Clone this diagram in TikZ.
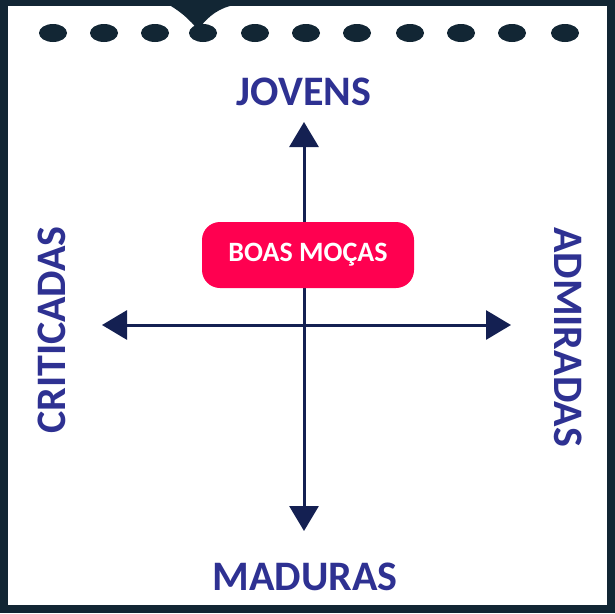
\documentclass[tikz,border=0pt]{standalone}
\usepackage{fontspec}
\setmainfont{Carlito}
\usetikzlibrary{arrows.meta}
\definecolor{txtblue}{RGB}{46,49,146}
\definecolor{axisnavy}{RGB}{20,32,82}
\definecolor{boxred}{RGB}{255,0,80}
\definecolor{frame}{RGB}{18,38,52}
\tikzset{
  lbl/.style={font=\bfseries\fontsize{42}{42}\selectfont, text=txtblue, inner sep=0pt},
  axis/.style={draw=axisnavy, line width=3pt, -{Triangle[length=25pt,width=29pt]}},
  hole/.style={fill=frame, draw=none},
  tag/.style={fill=boxred, rounded corners=18pt, minimum width=212pt, minimum height=66pt,
    text=white, font=\bfseries\fontsize{28}{28}\selectfont, inner sep=0pt}
}
\begin{document}
\begin{tikzpicture}[x=1pt,y=-1pt]
\useasboundingbox (0,0) rectangle (615,613);
\fill[frame] (0,0) rectangle (615,613);
\fill[white] (8,6) rectangle (607,605);
\fill[frame] (160,0) .. controls (180,10) and (190,20) .. (198,30) .. controls (205,20) and (215,10) .. (230,6) -- (230,0) -- cycle;
\foreach \x/\n in {53/1,104/2,155/3,203/4,255/5,306/6,357/7,410/8,461/9,512/10,565/11}{
  \fill[hole] (\x,33) ellipse [x radius=14, y radius=9];
}
\coordinate (c) at (304,325);
\coordinate (top) at (304,122);
\coordinate (bot) at (304,531);
\coordinate (lft) at (102,325);
\coordinate (rgt) at (511,325);
\draw[axis] (c) -- (top);
\draw[axis] (c) -- (bot);
\draw[axis] (c) -- (lft);
\draw[axis] (c) -- (rgt);
\node[tag] (boas) at (308,255) {BOAS MOÇAS};
\node[lbl] (jovens) at (304,92) {JOVENS};
\node[lbl] (maduras) at (305,577) {MADURAS};
\node[lbl, rotate=90] (crit) at (52,330) {CRITICADAS};
\node[lbl, rotate=-90] (adm) at (568,337) {ADMIRADAS};
\end{tikzpicture}
\end{document}
